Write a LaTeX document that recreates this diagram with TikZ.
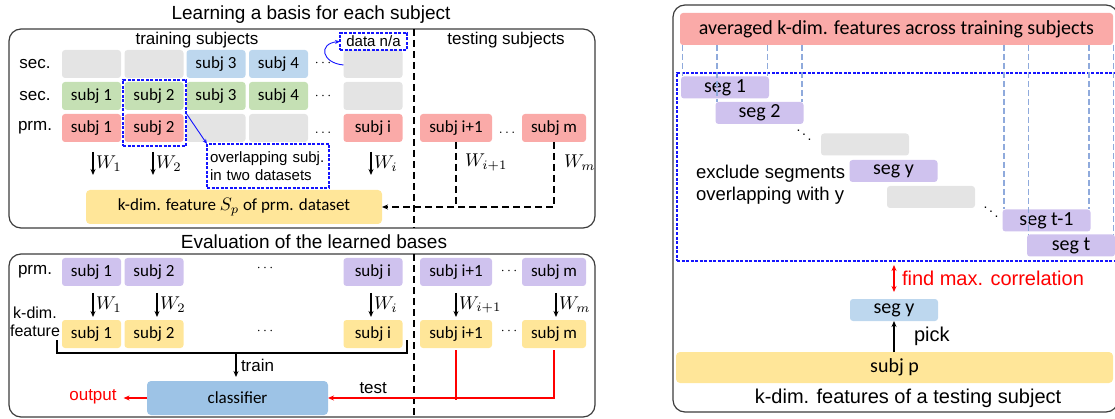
\documentclass[tikz,border=0pt]{standalone}
\usepackage{graphicx}
\usepackage{fontspec}
\setmainfont{Liberation Sans}
\newfontfamily\calfont{Carlito}
\usetikzlibrary{arrows.meta}
\definecolor{pinkc}{RGB}{250,170,168}
\definecolor{greenc}{RGB}{197,224,180}
\definecolor{bluec}{RGB}{189,215,238}
\definecolor{grayc}{RGB}{228,228,228}
\definecolor{yellowc}{RGB}{255,230,153}
\definecolor{purplec}{RGB}{207,194,238}
\definecolor{clsc}{RGB}{157,195,230}
\definecolor{framec}{RGB}{60,60,60}
\definecolor{vdashc}{RGB}{143,170,220}
\definecolor{pureblue}{RGB}{20,20,255}
\newcommand\fsz[2]{\fontsize{#1}{#2}\selectfont}
\newcommand\mth[2]{{\fontsize{10}{12}\selectfont\scalebox{#1}{$#2$}}}
\begin{document}
\begin{tikzpicture}[x=1pt,y=-1pt,
 every node/.style={inner sep=0pt,outer sep=0pt},
 frame/.style={draw=framec,line width=1.2pt,rounded corners=12pt},
 sbox/.style={rounded corners=3pt,minimum width=59pt,minimum height=28pt,font=\calfont\fsz{17}{20}},
 seg/.style={rounded corners=3pt,minimum width=88pt,minimum height=22pt,fill=purplec,font=\calfont\fsz{20}{24}},
 lab/.style={font=\fsz{17}{20}},
 mlab/.style={right=3pt},
 tip/.style={-{Stealth[length=6pt,width=5pt]}},
 warr/.style={tip,line width=1.4pt},
 bdash/.style={draw=pureblue,dash pattern=on 3pt off 1.5pt,line width=1.1pt},
 barr/.style={pureblue,line width=0.9pt,-{Stealth[length=5pt,width=4pt]}},
 kdash/.style={dash pattern=on 7pt off 4pt,line width=1.9pt},
 vdash/.style={draw=vdashc,dash pattern=on 6pt off 3pt,line width=1.6pt},
 rarr/.style={red,line width=1.6pt,tip}]

\useasboundingbox (0,0) rectangle (1115,419);

% ---------- titles and frames ----------
\node[font=\fsz{19}{22}] (t1) at (311,15) {Learning a basis for each subject};
\node[font=\fsz{19}{22}] (t2) at (314,242) {Evaluation of the learned bases};
\draw[frame] (9,29) rectangle (595,228);
\draw[frame] (9,254) rectangle (595,417);
\draw[kdash] (414,29) -- (414,228);
\draw[kdash] (414,254) -- (414,419);

% ---------- top panel ----------
\node[lab] (trs) at (197,40) {training subjects};
\node[lab] (tes) at (506,40) {testing subjects};
\node[lab] (l1) at (35,64) {sec.};
\node[lab] (l2) at (35,96) {sec.};
\node[lab] (l3) at (35,128) {prm.};

\node[sbox,fill=grayc] (a1) at (91.5,64) {};
\node[sbox,fill=grayc] (a2) at (154,64) {};
\node[sbox,fill=bluec] (a3) at (216,64) {subj 3};
\node[sbox,fill=bluec] (a4) at (278.5,64) {subj 4};
\node (ad) at (323,63) {\mth{1.4}{\cdots}};
\node[sbox,fill=grayc] (ai) at (373,64) {};

\node[sbox,fill=greenc] (b1) at (91.5,96) {subj 1};
\node[sbox,fill=greenc] (b2) at (154,96) {subj 2};
\node[sbox,fill=greenc] (b3) at (216,96) {subj 3};
\node[sbox,fill=greenc] (b4) at (278.5,96) {subj 4};
\node (bd) at (323,96) {\mth{1.4}{\cdots}};
\node[sbox,fill=grayc] (bi) at (373,96) {};

\node[sbox,fill=pinkc] (c1) at (91.5,128) {subj 1};
\node[sbox,fill=pinkc] (c2) at (154,128) {subj 2};
\node[sbox,fill=grayc] (c3) at (216,128) {};
\node[sbox,fill=grayc] (c4) at (278.5,128) {};
\node (cd) at (323,133) {\mth{1.4}{\ldots}};
\node[sbox,fill=pinkc] (ci) at (373,128) {subj i};
\node[sbox,fill=pinkc,minimum width=72pt] (cj) at (456,128) {subj i+1};
\node (cjd) at (507,133) {\mth{1.4}{\ldots}};
\node[sbox,fill=pinkc,minimum width=64pt] (cm) at (554,128) {subj m};

\node[bdash,minimum width=67pt,minimum height=17pt,font=\fsz{15}{18}] (dna) at (373.5,41.5) {data n/a};
\draw[barr] ([yshift=-1pt]ai.west) .. controls +(-22,-2) and +(-22,2) .. (dna.west);

\node[bdash,minimum width=63pt,minimum height=66pt] (ovr) at (154.5,113) {};
\node[bdash,minimum width=122pt,minimum height=44pt,font=\fsz{15}{18},align=left,text width=116pt] (ovb) at (268,166) {overlapping subj.\\in two datasets};
\draw[barr] (ovr.east) -- (ovb.north west);

\draw[warr] ([xshift=1.5pt,yshift=-10pt]c1.south) -- ++(0,23) node[midway,mlab]{\mth{1.85}{W_1}};
\draw[warr] ([xshift=-1pt,yshift=-10pt]c2.south) -- ++(0,23) node[midway,mlab]{\mth{1.85}{W_2}};
\draw[warr] ([xshift=-2pt,yshift=-10pt]ci.south) -- ++(0,23) node[midway,mlab]{\mth{1.85}{W_i}};

\node[sbox,fill=yellowc,minimum width=296pt,minimum height=34pt,rounded corners=4pt] (feat) at (234,207) {k-dim. feature \mth{1.8}{S_p} of prm. dataset};

\draw[kdash] (cj.south) -- (cj.south |- feat.east) node[pos=0.32,mlab,right=6pt]{\mth{1.85}{W_{i+1}}};
\draw[kdash,tip] (cm.south) |- (feat.east) node[pos=0.16,mlab,right=7pt]{\mth{1.85}{W_m}};

% ---------- bottom panel ----------
\node[lab] (l4) at (35,272) {prm.};
\node[font=\fsz{16}{18},align=center] (l5) at (35,322) {k-dim.\\feature};

\node[sbox,fill=purplec] (q1) at (91.5,272) {subj 1};
\node[sbox,fill=purplec] (q2) at (154,272) {subj 2};
\node (qd) at (265,268) {\mth{1.4}{\cdots}};
\node[sbox,fill=purplec] (qi) at (373,272) {subj i};
\node[sbox,fill=purplec,minimum width=72pt] (qj) at (456,272) {subj i+1};
\node (qjd) at (509,271) {\mth{1.4}{\cdots}};
\node[sbox,fill=purplec,minimum width=64pt] (qm) at (554,272) {subj m};

\node[sbox,fill=yellowc] (k1) at (91.5,334) {subj 1};
\node[sbox,fill=yellowc] (k2) at (154,334) {subj 2};
\node (kd) at (265,331) {\mth{1.4}{\cdots}};
\node[sbox,fill=yellowc] (ki) at (373,334) {subj i};
\node[sbox,fill=yellowc,minimum width=72pt] (kj) at (456,334) {subj i+1};
\node (kjd) at (509,331) {\mth{1.4}{\cdots}};
\node[sbox,fill=yellowc,minimum width=64pt] (km) at (554,334) {subj m};

\draw[warr] ([xshift=1.5pt,yshift=-7pt]q1.south) -- ([xshift=1.5pt,yshift=3pt]k1.north) node[midway,mlab]{\mth{1.85}{W_1}};
\draw[warr] ([xshift=3pt,yshift=-7pt]q2.south) -- ([xshift=3pt,yshift=3pt]k2.north) node[midway,mlab]{\mth{1.85}{W_2}};
\draw[warr] ([xshift=-2pt,yshift=-7pt]qi.south) -- ([xshift=-2pt,yshift=3pt]ki.north) node[midway,mlab]{\mth{1.85}{W_i}};
\draw[warr] ([yshift=-7pt]qj.south) -- ([yshift=3pt]kj.north) node[midway,mlab]{\mth{1.85}{W_{i+1}}};
\draw[warr] ([xshift=2pt,yshift=-7pt]qm.south) -- ([xshift=2pt,yshift=3pt]km.north) node[midway,mlab]{\mth{1.85}{W_m}};

\node[sbox,fill=clsc,minimum width=181pt,minimum height=34pt,rounded corners=4pt] (cls) at (237.5,398) {classifier};

\coordinate (bl) at (57,340);
\coordinate (br) at (407,340);
\coordinate (bm) at (236,353);
\draw[line width=1.4pt] (bl) -- (bl |- bm) -- (br |- bm) -- (br);
\draw[warr] (bm) -- ([yshift=4pt]bm |- cls.north) node[midway,right=5pt,lab]{train};

\node[lab,text=red] (out) at (93,397) {output};
\draw[rarr] (cls.west) -- ([xshift=7pt]cls.west -| out.east);

\draw[red,line width=1.6pt] ([yshift=-2pt]kj.south) -- ([yshift=-2pt]kj.south |- cls.east);
\draw[rarr] ([yshift=-2pt]km.south) |- (cls.east) node[pos=0.9,above=4pt,lab,text=black]{test};

% ---------- right panel ----------
\draw[frame] (673,5) rectangle (1118,412);
\node[rounded corners=3pt,fill=pinkc,minimum width=433pt,minimum height=32pt,font=\calfont\fsz{20}{24}] (avg) at (896.5,29) {averaged k-dim. features across training subjects};
\node[bdash,minimum width=443pt,minimum height=188pt] (win) at (898.5,167) {};

\node[seg] (s1) at (725,87.5) {seg 1};
\node[seg] (s2) at (759.5,113) {seg 2};
\node[seg,fill=grayc] (g1) at (865,144.5) {};
\node[seg] (sy) at (893.5,171) {seg y};
\node[seg,fill=grayc] (g2) at (931,197) {};
\node[seg] (st1) at (1046.5,220.5) {seg t-1};
\node[seg] (st) at (1071,245.5) {seg t};
\node (dd1) at (804,131) {\mth{1.4}{\ddots}};
\node (dd2) at (991,208) {\mth{1.4}{\ddots}};

\foreach \n in {s1,s2,st1,st}{
  \draw[vdash] ([xshift=1.5pt]\n.north west |- avg.south) -- ([xshift=1.5pt]\n.north west);
  \draw[vdash] ([xshift=-1.5pt]\n.north east |- avg.south) -- ([xshift=-1.5pt]\n.north east);
}

\node[font=\fsz{18.5}{22},align=left,anchor=west] (ex) at (696,185) {exclude segments\\overlapping with y};

\node[seg,fill=bluec] (sy2) at (894,310) {seg y};
\draw[red,line width=1.6pt,{Stealth[length=6pt,width=5pt]}-{Stealth[length=6pt,width=5pt]}] ([yshift=7pt]sy2.north) -- ([yshift=-4pt]sy2.north |- win.south) node[midway,right=8pt,font=\fsz{20}{24},text=red]{find max. correlation};

\node[rounded corners=4pt,fill=yellowc,minimum width=437pt,minimum height=31pt,font=\calfont\fsz{20}{24}] (sp) at (894.5,367.5) {subj p};
\draw[warr] (sp.north -| sy2.south) -- (sy2.south) node[midway,right=20pt,font=\fsz{20}{24}]{pick};
\node[font=\fsz{20}{24}] (kf) at (908,398) {k-dim. features of a testing subject};
\end{tikzpicture}
\end{document}
